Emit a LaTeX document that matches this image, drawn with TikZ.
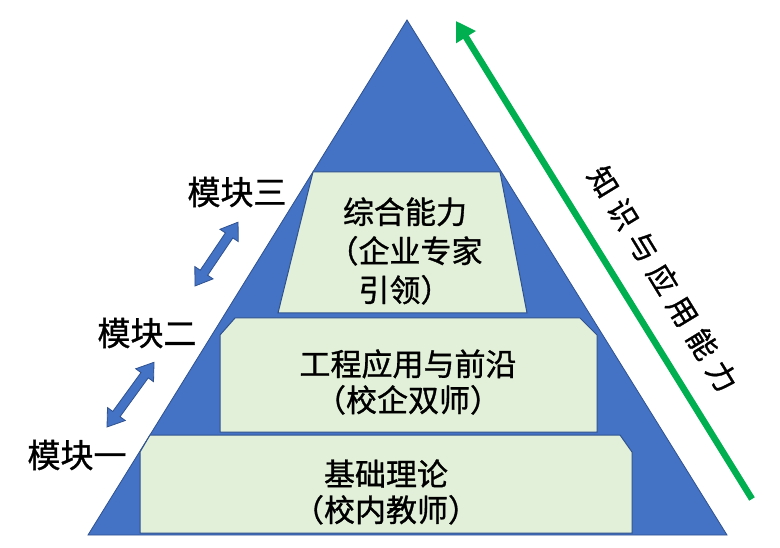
\documentclass[tikz,border=0pt]{standalone}
\usepackage{fontspec}
\newfontfamily\cjk[FakeBold=1]{Noto Sans CJK SC}
\usetikzlibrary{arrows.meta}
\definecolor{triblue}{HTML}{4472C4}
\definecolor{edgeblue}{HTML}{2F528F}
\definecolor{boxgreen}{HTML}{E2F0D9}
\definecolor{arrgreen}{HTML}{00B050}
\tikzset{
  pyramid/.style={fill=triblue, draw=edgeblue, line width=0.8pt, line join=miter},
  tierbox/.style={fill=boxgreen, draw=edgeblue, line width=1pt},
  tiertext/.style={font=\cjk\fontsize{31}{36}\selectfont, align=center, inner sep=0pt},
  modlabel/.style={font=\cjk\fontsize{33}{38}\selectfont, inner sep=0pt},
  blockarrow/.style={fill=triblue, draw=edgeblue, line width=0.8pt},
  growarrow/.style={draw=arrgreen, line width=6.5pt, -{Triangle[width=22pt,length=19pt]}},
  sidetext/.style={font=\cjk\fontsize{29.5}{34}\selectfont, inner sep=0pt}
}
\newcommand{\dblarrow}[3]{%
  \begin{scope}[shift={#1}, rotate=#2]
    \draw[blockarrow] (0,0) -- (16,-11) -- (16,-4.5) -- (#3-16,-4.5) -- (#3-16,-11)
      -- (#3,0) -- (#3-16,11) -- (#3-16,4.5) -- (16,4.5) -- (16,11) -- cycle;
  \end{scope}}
\begin{document}
\begin{tikzpicture}[x=1pt,y=-1pt]
\useasboundingbox (0,0) rectangle (780,548);
% pyramid
\coordinate (apex) at (407,20);
\coordinate (baseL) at (88,535);
\coordinate (baseR) at (727,535);
\draw[pyramid] (apex) -- (baseR) -- (baseL) -- cycle;
% tiers
\draw[tierbox] (140,452) -- (150,435) -- (620,435) -- (632,452) -- (632,533) -- (140,533) -- cycle;
\draw[tierbox] (220,335) -- (235,318) -- (580,318) -- (597,335) -- (597,432) -- (220,432) -- cycle;
\draw[tierbox] (313,172) -- (500,172) -- (527,313) -- (278,313) -- cycle;
% tier texts
\node[tiertext, font=\cjk\fontsize{31}{39}\selectfont] (top) at (405,251) {综合能力\\（企业专家\\引领）};
\node[tiertext] (mid) at (408,382) {工程应用与前沿\\（校企双师）};
\node[tiertext] (bot) at (386,492) {基础理论\\（校内教师）};
% module labels
\node[modlabel] (m3) at (237,192) {模块三};
\node[modlabel] (m2) at (147,333) {模块二};
\node[modlabel] (m1) at (77,455) {模块一};
% double block arrows
\dblarrow{(195,286)}{56}{77}
\dblarrow{(107,427)}{54}{80}
% green arrow
\coordinate (gtail) at (752,499);
\coordinate (gtip) at (456,21);
\draw[growarrow] (gtail) -- (gtip);
% side text
\node[sidetext, rotate=-58.6] (side) at (663,279) {知\hspace{8.5pt}识\hspace{8.5pt}与\hspace{8.5pt}应\hspace{8.5pt}用\hspace{8.5pt}能\hspace{8.5pt}力};
\end{tikzpicture}
\end{document}
